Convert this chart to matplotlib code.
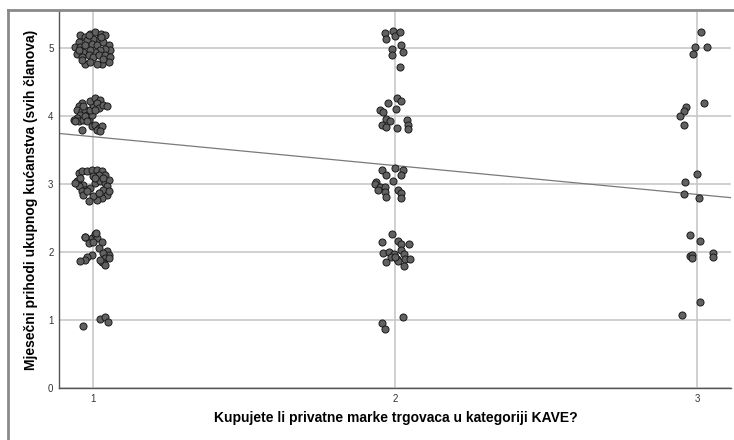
import matplotlib
matplotlib.use("Agg")
import matplotlib.pyplot as plt
from matplotlib.lines import Line2D
import numpy as np

plt.rcParams["font.family"] = ["Liberation Sans", "DejaVu Sans"]

# jittered points (x = category with jitter, y = income level with jitter)
g1_x = [0.959, 0.976, 0.992, 1.009, 1.029, 1.042, 1.020, 1.003, 0.981, 0.954,
        0.943, 0.959, 0.976, 0.998, 1.014, 1.036, 1.053, 1.058, 1.042, 1.025,
        1.009, 0.992, 0.970, 0.948, 0.965, 0.987, 1.003, 1.020, 1.042, 1.058,
        1.053, 1.031, 1.014, 0.976, 0.965, 0.992, 1.036, 0.954, 1.029, 0.987,
        # level 4
        0.965, 0.954, 0.948, 0.965, 0.976, 0.981, 0.959, 0.948, 0.937, 0.954,
        0.970, 0.987, 0.976, 0.998, 0.992, 1.003, 0.992, 1.009, 1.025, 1.014,
        1.020, 1.036, 1.047, 1.009, 0.981, 0.943, 0.965, 0.998, 1.009, 1.020,
        1.031, 1.014, 1.025, 0.970,
        # level 3
        0.954, 0.965, 0.981, 0.998, 1.014, 1.031, 1.042, 1.020, 1.003, 0.948,
        0.959, 0.970, 0.954, 0.976, 0.965, 0.992, 1.009, 1.025, 1.042, 1.053,
        1.047, 1.036, 1.047, 1.031, 1.014, 1.003, 1.020, 0.987, 0.970, 0.981,
        1.009, 1.036, 1.053, 0.943,
        # level 2
        0.976, 0.998, 1.009, 1.014, 0.987, 1.003, 1.031, 1.020, 1.047, 1.053,
        1.036, 1.042, 1.031, 1.042, 1.025, 0.998, 0.981, 0.976, 0.959, 1.053,
        0.975, 1.013,
        # level 1
        0.970, 1.025, 1.042, 1.051]
g1_y = [5.186, 5.162, 5.210, 5.235, 5.210, 5.186, 5.137, 5.137, 5.112, 5.088,
        5.014, 5.014, 5.039, 5.063, 5.039, 5.088, 5.039, 4.965, 4.990, 4.965,
        4.941, 4.965, 4.941, 4.916, 4.867, 4.892, 4.867, 4.892, 4.892, 4.867,
        4.794, 4.769, 4.769, 4.769, 4.818, 4.794, 4.833, 4.965, 5.162, 5.186,
        4.191, 4.142, 4.093, 4.069, 4.093, 4.020, 4.020, 3.971, 3.946, 3.922,
        3.946, 3.946, 3.995, 4.020, 4.093, 4.167, 4.216, 4.265, 4.240, 4.191,
        4.118, 4.167, 4.142, 4.093, 3.922, 3.922, 3.799, 3.848, 3.873, 3.824,
        3.848, 3.799, 3.775, 4.142,
        3.161, 3.186, 3.186, 3.210, 3.210, 3.186, 3.137, 3.137, 3.112, 3.039,
        3.088, 2.990, 2.965, 2.916, 2.892, 2.941, 3.014, 3.039, 3.014, 3.063,
        2.965, 2.916, 2.843, 2.794, 2.769, 2.818, 2.867, 2.745, 2.843, 2.892,
        3.088, 3.088, 2.892, 3.014,
        2.225, 2.201, 2.260, 2.201, 2.127, 2.152, 2.152, 2.054, 2.015, 1.956,
        1.980, 1.907, 1.858, 1.809, 1.882, 1.956, 1.931, 1.882, 1.868, 1.907,
        2.225, 2.275,
        0.917, 1.015, 1.049, 0.975]

g2_x = [1.967, 1.970, 1.994, 2.002, 2.017, 2.020, 1.989, 1.991, 2.028, 2.017,
        2.008, 2.020, 1.976, 1.950, 1.961, 2.003, 1.972, 1.983, 1.956, 1.972,
        2.008, 2.039, 2.042, 2.042,
        1.958, 1.972, 2.000, 2.028, 2.022, 1.994, 1.939, 1.934, 1.950, 1.967,
        1.945, 1.969, 1.972, 2.011, 2.020, 2.020,
        1.991, 1.958, 2.011, 2.020, 2.047, 1.961, 1.980, 1.998, 1.987, 2.020,
        2.031, 2.006, 2.033, 1.972, 2.011, 2.029, 2.050, 2.002,
        1.956, 1.969, 2.028]
g2_y = [5.216, 5.128, 5.255, 5.182, 5.240, 5.044, 4.981, 4.897, 4.946, 4.726,
        4.260, 4.221, 4.186, 4.088, 4.064, 4.098, 3.951, 3.927, 3.863, 3.833,
        3.819, 3.941, 3.868, 3.804,
        3.206, 3.132, 3.230, 3.206, 3.132, 3.044, 3.034, 2.995, 2.960, 2.960,
        2.911, 2.887, 2.813, 2.911, 2.862, 2.799,
        2.259, 2.142, 2.161, 2.112, 2.117, 1.990, 2.004, 1.965, 1.931, 2.029,
        1.965, 1.897, 1.897, 1.848, 1.867, 1.794, 1.897, 1.931,
        0.950, 0.867, 1.039]

g3_x = [3.013, 2.993, 3.032, 2.987,
        3.024, 2.964, 2.955, 2.942, 2.957,
        2.998, 2.959, 2.955, 3.006,
        2.978, 3.008, 2.975, 2.982, 2.983, 3.052, 3.054,
        3.008, 2.951]
g3_y = [5.230, 5.015, 5.015, 4.907,
        4.186, 4.137, 4.074, 4.000, 3.868,
        3.147, 3.029, 2.853, 2.799,
        2.245, 2.167, 1.946, 1.956, 1.915, 1.990, 1.931,
        1.270, 1.069]

# linear fit line as drawn in the chart
fit_intercept = 4.122
fit_slope = -0.425

x_ticks = [1, 2, 3]
y_ticks = [0, 1, 2, 3, 4, 5]
x_label = "Kupujete li privatne marke trgovaca u kategoriji KAVE?"
y_label = "Mjesečni prihodi ukupnog kućanstva (svih članova)"

fig = plt.figure(figsize=(7.34, 4.40), dpi=100)
ax = fig.add_axes([59 / 734, 1 - 388 / 440, 672 / 734, 378 / 440])

xs = np.array(g1_x + g2_x + g3_x)
ys = np.array(g1_y + g2_y + g3_y)
ax.scatter(xs, ys, s=26, c="#616161", edgecolors="#1a1a1a", linewidths=0.7, zorder=3)

xlim = (0.889, 3.112)
line_x = np.array(xlim)
ax.plot(line_x, fit_intercept + fit_slope * line_x, color="#7a7a7a", lw=0.9, zorder=2)

ax.set_xlim(*xlim)
ax.set_ylim(0, 5.56)
ax.set_xticks(x_ticks)
ax.set_yticks(y_ticks)
ax.grid(True, color="#c8c8c8", lw=1.2, zorder=0)
ax.set_axisbelow(True)
ax.tick_params(length=0, labelsize=7, colors="#333333", pad=4)
for side in ["top", "right"]:
    ax.spines[side].set_visible(False)
for side in ["left", "bottom"]:
    ax.spines[side].set_color("#555555")
    ax.spines[side].set_linewidth(1.0)

fig.text(396 / 734, 1 - 418 / 440, x_label, ha="center", va="center",
         fontsize=10, fontweight="bold")
fig.text(31 / 734, 1 - 200 / 440, y_label, ha="center", va="center",
         rotation=90, fontsize=10, fontweight="bold")

# outer chart frame (top and left edges visible)
fig.add_artist(Line2D([8 / 734, 8 / 734], [0, 1 - 10 / 440], transform=fig.transFigure,
                      color="#8a8a8a", lw=2))
fig.add_artist(Line2D([8 / 734, 1], [1 - 10 / 440, 1 - 10 / 440], transform=fig.transFigure,
                      color="#8a8a8a", lw=2))

fig.savefig("out.png", dpi=100)
